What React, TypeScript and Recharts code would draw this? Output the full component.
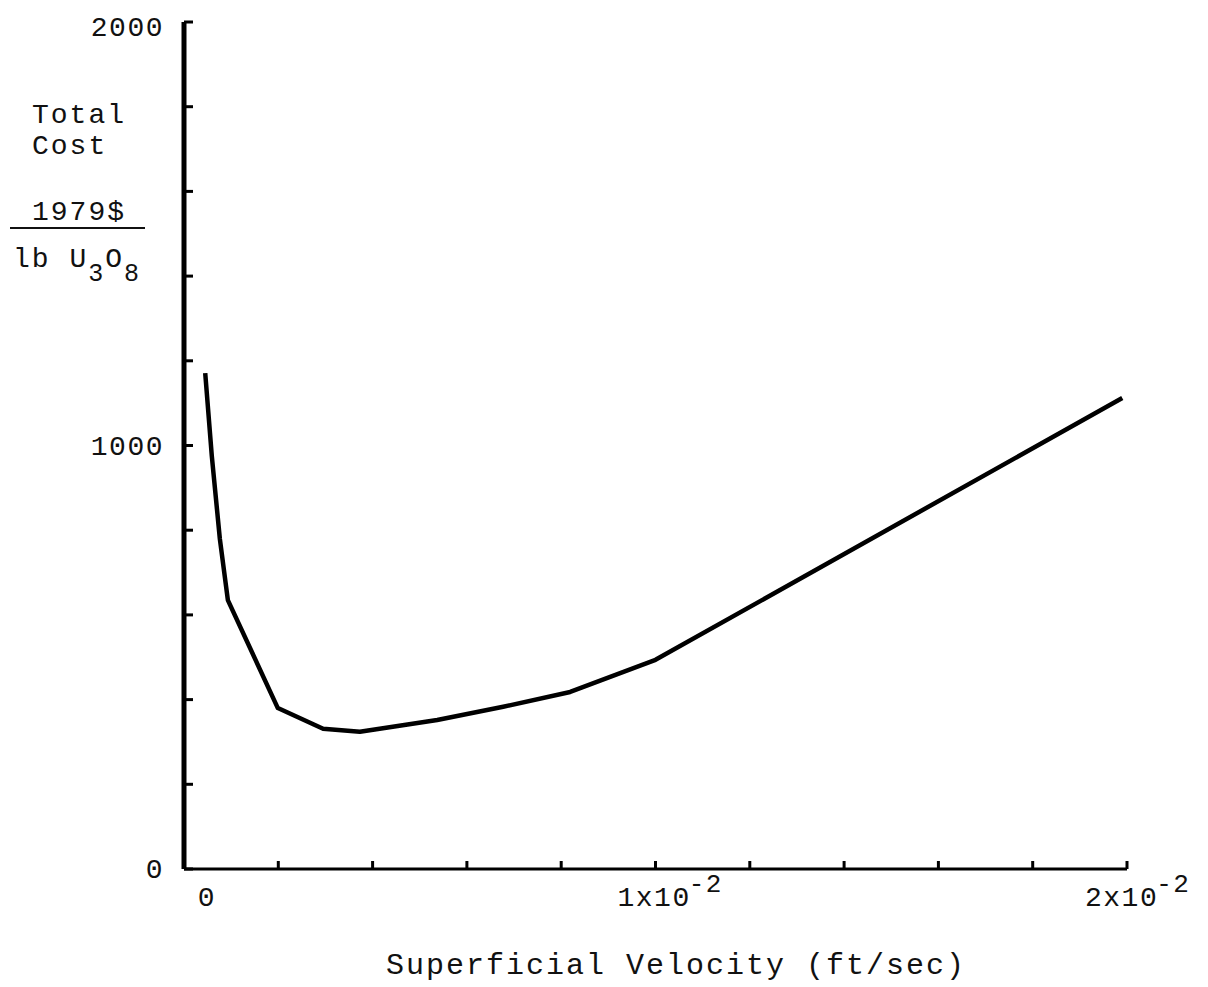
import { LineChart, Line, XAxis, YAxis, Customized } from 'recharts';

// superficial velocity (ft/sec) vs total cost (1979$ / lb U3O8)
const velocity = [
  0.00045, 0.00059, 0.00076, 0.00093, 0.00199, 0.00295, 0.00373, 0.00537,
  0.00677, 0.00819, 0.01, 0.0199,
];
const totalCost = [1171, 975, 780, 635, 380, 331, 324, 352, 383, 418, 494, 1112];

const xTicks = [0, 0.002, 0.004, 0.006, 0.008, 0.01, 0.012, 0.014, 0.016, 0.018, 0.02];
const yTicks = [0, 200, 400, 600, 800, 1000, 1200, 1400, 1600, 1800, 2000];
const xLabels: Record<string, [string, string]> = {
  '0': ['0', ''],
  '0.01': ['1x10', '-2'],
  '0.02': ['2x10', '-2'],
};
const yLabels = ['0', '1000', '2000'];

const data = velocity.map((v, i) => ({ v, cost: totalCost[i] }));

const FONT = '"Liberation Mono", "DejaVu Sans Mono", monospace';

function XTick(props: any) {
  const { x, y, payload } = props;
  const key = String(+payload.value.toFixed(4));
  const lab = xLabels[key];
  let dx = 0;
  let anchor: 'start' | 'middle' = 'start';
  if (lab) {
    if (key === '0') {
      dx = 23;
      anchor = 'middle';
    } else if (key === '0.01') dx = -38;
    else dx = -42;
  }
  return (
    <g>
      <line x1={x} y1={y} x2={x} y2={y - 8} stroke="#000" strokeWidth={3} />
      {lab && (
        <text
          x={x + dx}
          y={y + 37}
          textAnchor={anchor}
          fontFamily={FONT}
          fontSize={28}
          letterSpacing={1.5}
          fill="#111"
        >
          {lab[0]}
          {lab[1] && (
            <tspan fontSize={26} dy={-14} dx={-2}>
              {lab[1]}
            </tspan>
          )}
        </text>
      )}
    </g>
  );
}

function YTick(props: any) {
  const { x, y, payload } = props;
  const lab = String(payload.value);
  const show = yLabels.includes(lab);
  return (
    <g>
      <line x1={x} y1={y} x2={x + 9} y2={y} stroke="#000" strokeWidth={3} />
      {show && (
        <text
          x={x - 20}
          y={lab === '2000' ? y + 14 : y + 9}
          textAnchor="end"
          fontFamily={FONT}
          fontSize={28}
          letterSpacing={1.5}
          fill="#111"
        >
          {lab}
        </text>
      )}
    </g>
  );
}

function Titles() {
  const common = { fontFamily: FONT, fontSize: 28, letterSpacing: 2, fill: '#111' };
  return (
    <g>
      <text x={24} y={115} {...common}>Total</text>
      <text x={24} y={146} {...common}>Cost</text>
      <text x={24} y={212} {...common}>1979$</text>
      <line x1={2} y1={220} x2={137} y2={220} stroke="#111" strokeWidth={2} />
      <text x={5} y={259} {...common}>
        lb U
        <tspan fontSize={25} dy={14}>3</tspan>
        <tspan dy={-14}>O</tspan>
        <tspan fontSize={25} dy={14}>8</tspan>
      </text>
      <text
        x={668}
        y={966}
        textAnchor="middle"
        fontFamily={FONT}
        fontSize={30}
        letterSpacing={2}
        fill="#111"
      >
        Superficial Velocity (ft/sec)
      </text>
    </g>
  );
}

export default function App() {
  return (
    <div style={{ width: 1200, height: 979, background: '#fff' }}>
      <LineChart
        width={1200}
        height={979}
        data={data}
        margin={{ top: 14, right: 81, bottom: 0, left: 0 }}
      >
        <XAxis
          dataKey="v"
          type="number"
          domain={[0, 0.02]}
          ticks={xTicks}
          interval={0}
          height={118}
          tickSize={0}
          tickMargin={0}
          tickLine={false}
          axisLine={{ stroke: '#000', strokeWidth: 3 }}
          tick={<XTick />}
        />
        <YAxis
          type="number"
          domain={[0, 2000]}
          ticks={yTicks}
          interval={0}
          width={176}
          tickSize={0}
          tickMargin={0}
          tickLine={false}
          axisLine={{ stroke: '#000', strokeWidth: 5 }}
          tick={<YTick />}
        />
        <Line
          dataKey="cost"
          type="linear"
          stroke="#000"
          strokeWidth={4.5}
          strokeLinejoin="round"
          dot={false}
          isAnimationActive={false}
        />
        <Customized component={<Titles />} />
      </LineChart>
    </div>
  );
}
